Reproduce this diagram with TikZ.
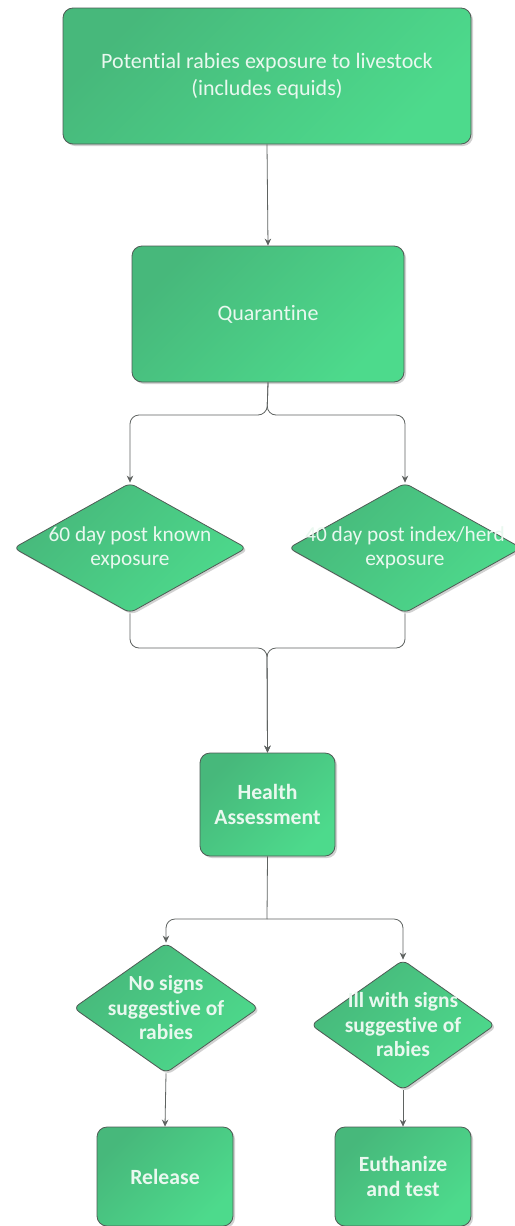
\documentclass[tikz,border=0pt]{standalone}
\usepackage{fontspec}
\setmainfont{Carlito}[Ligatures={NoCommon}]
\usetikzlibrary{shapes.geometric,arrows.meta,shadows}
\definecolor{gA}{HTML}{47B87B}
\definecolor{gB}{HTML}{4DDA8C}
\definecolor{edgecol}{HTML}{4F5B55}
\definecolor{linecol}{HTML}{5F6361}
\definecolor{txtcol}{HTML}{E9F8EF}
\begin{document}
\begin{tikzpicture}[x=1pt,y=1pt,
  greenfill/.style={draw=edgecol, line width=0.8pt, top color=gA, bottom color=gB, shading angle=45,
    drop shadow={shadow xshift=2pt, shadow yshift=-2pt, opacity=0.18, fill=black}},
  procbox/.style={greenfill, rectangle, rounded corners=10pt, inner sep=0pt, align=center, text=txtcol,
    font=\fontsize{22}{26.5}\selectfont},
  boldbox/.style={procbox, font=\bfseries\fontsize{21.7}{25}\selectfont},
  decbox/.style={greenfill, diamond, rounded corners=6pt, inner sep=0pt},
  dtext/.style={align=center, text=txtcol, inner sep=0pt, font=\fontsize{21.3}{24.5}\selectfont},
  dbold/.style={dtext, font=\bfseries\fontsize{21.5}{24.5}\selectfont},
  conn/.style={draw=linecol, line width=0.8pt, rounded corners=9pt},
  arr/.style={conn, -{Stealth[length=7pt,width=6.5pt]}}
]
\useasboundingbox (0,0) rectangle (514,-1226);
\fill[white] (0,0) rectangle (514,-1226);

\node[procbox, minimum width=408pt, minimum height=136pt] (top) at (267,-76)
  {Potential rabies exposure to livestock\\(includes equids)};
\node[procbox, minimum width=272pt, minimum height=136pt] (quar) at (268,-314) {Quarantine};

\node[decbox, minimum width=233pt, minimum height=130pt] (dl) at (130,-548) {};
\node[dtext] (dlt) at (dl.center) {60 day post known\\exposure};
\node[decbox, minimum width=233pt, minimum height=130pt] (dr) at (405,-548) {};
\node[dtext] (drt) at (dr.center) {40 day post index/herd\\exposure};

\node[boldbox, minimum width=135pt, minimum height=103pt] (health) at (267.5,-804.5)
  {Health\\Assessment};

\node[decbox, minimum width=185pt, minimum height=130pt] (nl) at (166,-1008) {};
\node[dbold] (nlt) at (nl.center) {No signs\\suggestive of\\rabies};
\node[decbox, minimum width=184pt, minimum height=130pt] (nr) at (403,-1025) {};
\node[dbold] (nrt) at (nr.center) {Ill with signs\\suggestive of\\rabies};

\node[boldbox, minimum width=136pt, minimum height=99pt] (rel) at (165,-1176.5) {Release};
\node[boldbox, minimum width=136pt, minimum height=99pt] (eut) at (403,-1176.5) {Euthanize\\and test};

% connectors
\coordinate (s1) at (267,-415);
\coordinate (m1) at (267,-648);
\coordinate (s2) at (267,-919);

\draw[arr] (top.south) -- (quar.north);
\draw[arr] (quar.south) -- (s1) -| (dl.north);
\draw[arr] (quar.south) -- (s1) -| (dr.north);
\draw[arr] (dl.south) |- (m1) -- (health.north);
\draw[arr] (dr.south) |- (m1) -- (health.north);
\draw[conn] (health.south) -- (s2);
\draw[arr] (s2) -| (nl.north);
\draw[arr] (s2) -| (nr.north);
\draw[arr] (nl.south) -- (rel.north);
\draw[arr] (nr.south) -- (eut.north);
\end{tikzpicture}
\end{document}
